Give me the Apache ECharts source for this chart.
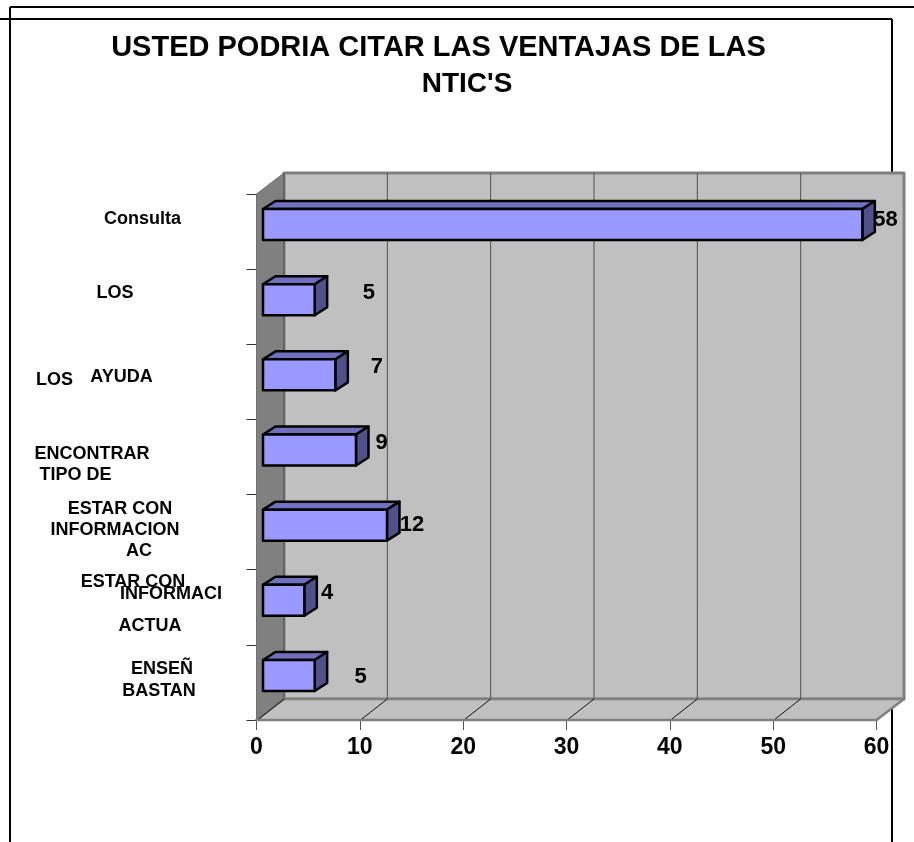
<!DOCTYPE html>
<html>
<head>
<meta charset="utf-8">
<title>USTED PODRIA CITAR LAS VENTAJAS DE LAS NTIC'S</title>
<style>
html, body { margin: 0; padding: 0; background: #fff; }
#chart { width: 914px; height: 842px; }
</style>
<script src="https://cdn.jsdelivr.net/npm/echarts@6/dist/echarts.min.js"></script>
</head>
<body>
<div id="chart"></div>
<script>
// data
const categories = ['Consulta', 'LOS', 'LOS AYUDA', 'ENCONTRAR TIPO DE', 'ESTAR CON INFORMACION AC', 'ESTAR CON INFORMACI ACTUA', 'ENSEÑ BASTAN']
const values = [58, 5, 7, 9, 12, 4, 5]
const xTicks = [0, 10, 20, 30, 40, 50, 60]

// the category labels are scattered in the original, so each line is placed on its own
const labelLines = [
  ['Consulta', 142.5, 219],
  ['LOS', 115, 293],
  ['LOS', 54.5, 380],
  ['AYUDA', 121.5, 377],
  ['ENCONTRAR', 92, 454],
  ['TIPO DE', 75.5, 475],
  ['ESTAR CON', 120, 509],
  ['INFORMACION', 115, 530],
  ['AC', 139, 551],
  ['ESTAR CON', 133, 582],
  ['INFORMACI', 171, 594],
  ['ACTUA', 150, 626],
  ['ENSEÑ', 162, 669],
  ['BASTAN', 159, 691]
]
// value label offset from the end of each bar
const valueLabelOffset = [[10.7, -4.6], [41.8, -6.7], [29, -7.9], [13.2, -7.3], [12.5, 0], [10.2, -7.3], [33.5, 1.6]]

const FONT = '"Liberation Sans", Arial, sans-serif'
const WALL_DX = 27.5
const WALL_DY = -21
const BAR_DX = 6.5
const BAR_DY = -7
const BAR_H = 31
const SIDE_DX = 12.5
const SIDE_DY = -8

function poly (points, fill, stroke, lineWidth) {
  return {
    type: 'polygon',
    shape: { points: points },
    style: { fill: fill, stroke: stroke, lineWidth: lineWidth || 0, lineJoin: 'round' }
  }
}

function line (x1, y1, x2, y2, stroke, lineWidth) {
  return {
    type: 'line',
    shape: { x1: x1, y1: y1, x2: x2, y2: y2 },
    style: { stroke: stroke, lineWidth: lineWidth }
  }
}

function renderWalls (params, api) {
  const c = params.coordSys
  const l = c.x
  const r = c.x + c.width
  const t = c.y
  const b = c.y + c.height
  const children = [
    poly([[l + WALL_DX, t + WALL_DY], [r + WALL_DX, t + WALL_DY], [r + WALL_DX, b + WALL_DY], [l + WALL_DX, b + WALL_DY]], '#c0c0c0', '#808080', 3),
    poly([[l, t], [l + WALL_DX, t + WALL_DY], [l + WALL_DX, b + WALL_DY], [l, b]], '#808080', '#707070', 1),
    poly([[l, b], [l + WALL_DX, b + WALL_DY], [r + WALL_DX, b + WALL_DY], [r, b]], '#c0c0c0', '#808080', 2.5)
  ]
  xTicks.forEach(function (tick, i) {
    const x = api.coord([tick, 0])[0]
    if (i < xTicks.length - 1) {
      children.push(line(x + WALL_DX, t + WALL_DY, x + WALL_DX, b + WALL_DY, '#505050', 1))
      children.push(line(x + 2, b - 1, x + WALL_DX, b + WALL_DY, '#111', 1))
    }
  })
  return { type: 'group', children: children }
}

function renderBar (params, api) {
  const value = api.value(0)
  const idx = api.value(1)
  const start = api.coord([0, idx])
  const end = api.coord([value, idx])
  const x0 = start[0] + BAR_DX
  const x1 = end[0] + BAR_DX
  const y0 = start[1] + BAR_DY - BAR_H / 2
  const y1 = y0 + BAR_H
  const off = valueLabelOffset[params.dataIndex]
  return {
    type: 'group',
    children: [
      poly([[x0, y0], [x0 + SIDE_DX, y0 + SIDE_DY], [x1 + SIDE_DX, y0 + SIDE_DY], [x1, y0]], '#7070c0', '#000', 2.5),
      poly([[x1, y0], [x1 + SIDE_DX, y0 + SIDE_DY], [x1 + SIDE_DX, y1 + SIDE_DY], [x1, y1]], '#50508a', '#000', 2.5),
      poly([[x0, y0], [x1, y0], [x1, y1], [x0, y1]], '#9999ff', '#000', 2.5),
      {
        type: 'text',
        style: {
          text: String(value),
          x: x1 + off[0] + SIDE_DX,
          y: (y0 + y1) / 2 + off[1],
          align: 'center',
          verticalAlign: 'middle',
          font: 'bold 22px ' + FONT,
          fill: '#000'
        }
      }
    ]
  }
}

const frame = [
  line(10, 7, 914, 7, '#000', 2),
  line(0, 19, 892, 19, '#000', 2),
  line(10, 7, 10, 842, '#000', 2),
  line(892, 19, 892, 842, '#000', 2)
]

const labelText = labelLines.map(function (item) {
  return {
    type: 'text',
    style: {
      text: item[0],
      x: item[1],
      y: item[2],
      align: 'center',
      verticalAlign: 'middle',
      font: 'bold 18px ' + FONT,
      fill: '#000'
    }
  }
})

const chart = echarts.init(document.getElementById('chart'))
chart.setOption({
  animation: false,
  backgroundColor: '#fff',
  title: [
    {
      text: 'USTED PODRIA CITAR LAS VENTAJAS DE LAS',
      left: 433.5,
      top: 43,
      textAlign: 'center',
      textVerticalAlign: 'middle',
      textStyle: { fontFamily: FONT, fontSize: 29, fontWeight: 'bold', color: '#000' }
    },
    {
      text: "NTIC'S",
      left: 462,
      top: 79,
      textAlign: 'center',
      textVerticalAlign: 'middle',
      textStyle: { fontFamily: FONT, fontSize: 28, fontWeight: 'bold', color: '#000' }
    }
  ],
  grid: { left: 256.5, right: 37.5, top: 194, bottom: 122 },
  xAxis: {
    type: 'value',
    min: 0,
    max: 60,
    interval: 10,
    splitLine: { show: false },
    axisLine: { show: true, lineStyle: { color: '#333', width: 2 } },
    axisTick: { show: true, length: 10, lineStyle: { color: '#555' } },
    axisLabel: { margin: 16, color: '#000', fontFamily: FONT, fontSize: 23, fontWeight: 'bold' }
  },
  yAxis: {
    type: 'category',
    inverse: true,
    data: categories,
    axisLine: { show: true, lineStyle: { color: '#707070', width: 1 } },
    axisTick: { show: true, length: 10, lineStyle: { color: '#333' } },
    axisLabel: { show: false }
  },
  graphic: { elements: frame.concat(labelText) },
  series: [
    {
      type: 'custom',
      name: 'walls',
      z: 1,
      silent: true,
      renderItem: renderWalls,
      data: [[0, 0]]
    },
    {
      type: 'custom',
      name: 'bars',
      z: 3,
      renderItem: renderBar,
      encode: { x: 0, y: 1 },
      data: values.map(function (v, i) { return [v, i] })
    }
  ]
})
</script>
</body>
</html>
